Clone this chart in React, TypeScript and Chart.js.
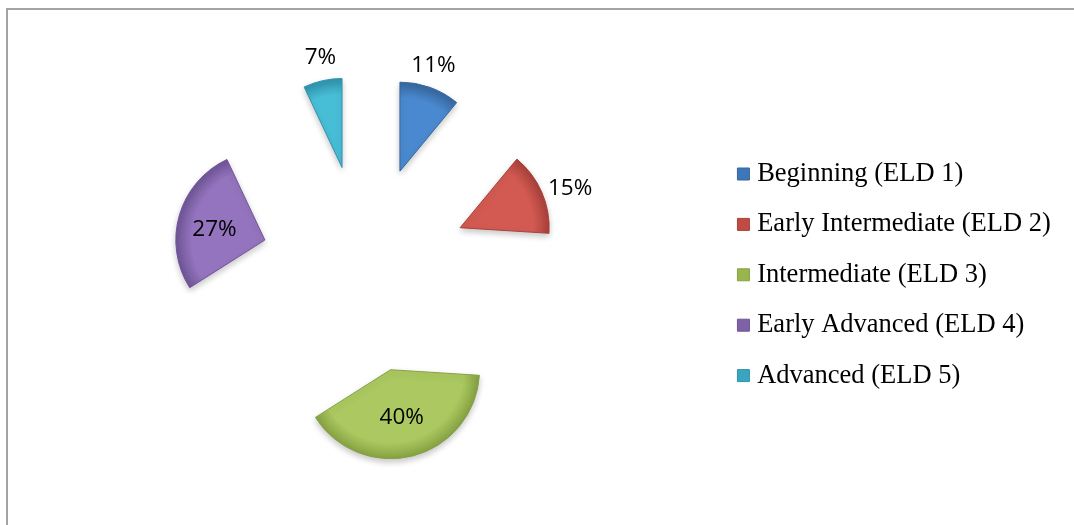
import React, { useEffect, useRef } from 'react';
import { Chart, registerables } from 'chart.js';

Chart.register(...registerables);

// ---- data ----
const CATEGORIES = [
  'Beginning (ELD 1)',
  'Early Intermediate (ELD 2)',
  'Intermediate (ELD 3)',
  'Early Advanced (ELD 4)',
  'Advanced (ELD 5)',
];
const PERCENTS = [11, 15, 40, 27, 7];

// ---- style ----
const SLICE_COLORS = ['#4A89CF', '#D35A52', '#ABC960', '#9474BE', '#48BDD6'];
const EDGE_COLORS = ['#36679F', '#A9413B', '#86A243', '#6F5597', '#2F93AC'];
const KEY_COLORS = ['#3F76B8', '#C04B45', '#98B54E', '#7F62A6', '#3AA5BF'];

const RADIUS = 89;
const EXPLODE = 104;
const LABEL_FONT = '22.5px "Open Sans", "Liberation Sans", sans-serif';

function sliceFill(c: any) {
  const chart = c.chart;
  const area = chart.chartArea;
  const i = c.dataIndex;
  if (!area || i === undefined) return SLICE_COLORS[i ?? 0];
  const data: number[] = c.dataset.data;
  const total = data.reduce((a, b) => a + b, 0);
  let before = 0;
  for (let k = 0; k < i; k++) before += data[k];
  const start = -Math.PI / 2 + (before / total) * 2 * Math.PI;
  const end = start + (data[i] / total) * 2 * Math.PI;
  const mid = (start + end) / 2;
  const cx = (area.left + area.right) / 2 + Math.cos(mid) * EXPLODE;
  const cy = (area.top + area.bottom) / 2 + Math.sin(mid) * EXPLODE;
  const g = chart.ctx.createRadialGradient(cx, cy, 0, cx, cy, RADIUS);
  g.addColorStop(0, SLICE_COLORS[i]);
  g.addColorStop(0.82, SLICE_COLORS[i]);
  g.addColorStop(1, EDGE_COLORS[i]);
  return g;
}

const explodePlugin = {
  id: 'explodeSlices',
  afterDatasetUpdate(_chart: any, args: any) {
    args.meta.data.forEach((arc: any) => {
      const mid = (arc.startAngle + arc.endAngle) / 2;
      arc.x += Math.cos(mid) * EXPLODE;
      arc.y += Math.sin(mid) * EXPLODE;
    });
  },
  beforeDatasetsDraw(chart: any) {
    const ctx = chart.ctx;
    ctx.save();
    ctx.shadowColor = 'rgba(0, 0, 0, 0.22)';
    ctx.shadowBlur = 6;
    ctx.shadowOffsetX = 0;
    ctx.shadowOffsetY = 3;
  },
  afterDatasetsDraw(chart: any) {
    chart.ctx.restore();
  },
};

const anchorShare = (t: number) => Math.sign(t) * Math.max(0, (Math.abs(t) - 0.4) / 0.6);

const labelPlugin = {
  id: 'sliceLabels',
  afterDatasetsDraw(chart: any) {
    const meta = chart.getDatasetMeta(0);
    const values: number[] = chart.data.datasets[0].data;
    const ctx = chart.ctx;
    ctx.save();
    ctx.shadowColor = 'transparent';
    ctx.font = LABEL_FONT;
    ctx.fillStyle = '#000000';
    ctx.textAlign = 'center';
    ctx.textBaseline = 'middle';
    meta.data.forEach((arc: any, i: number) => {
      const { x, y, startAngle, endAngle, outerRadius } = arc;
      const mid = (startAngle + endAngle) / 2;
      const half = (endAngle - startAngle) / 2;
      const ux = Math.cos(mid);
      const uy = Math.sin(mid);
      const text = `${values[i]}%`;
      const w = ctx.measureText(text).width;
      let lx: number;
      let ly: number;
      if (endAngle - startAngle > 1.2) {
        const d = (2 * outerRadius * Math.sin(half)) / (3 * half);
        lx = x + ux * d;
        ly = y + uy * d + 4;
      } else {
        const gap = 10;
        const hw = w / 2;
        const hh = 14;
        lx = x + ux * (outerRadius + gap) + hw * anchorShare(ux);
        ly = y + uy * (outerRadius + gap) + hh * anchorShare(uy);
      }
      ctx.fillText(text, lx, ly);
    });
    ctx.restore();
  },
};

export default function App() {
  const ref = useRef<HTMLCanvasElement | null>(null);

  useEffect(() => {
    if (!ref.current) return;
    const baseGen = (Chart as any).overrides.doughnut.plugins.legend.labels.generateLabels;
    const chart = new Chart(ref.current, {
      type: 'pie',
      data: {
        labels: CATEGORIES,
        datasets: [
          {
            data: PERCENTS,
            backgroundColor: sliceFill as any,
            borderColor: EDGE_COLORS,
            borderWidth: 1,
            radius: RADIUS,
          } as any,
        ],
      },
      options: {
        responsive: false,
        maintainAspectRatio: false,
        animation: false,
        events: [],
        layout: { padding: { left: 10.4, right: 13.25, top: 13, bottom: 0 } },
        plugins: {
          tooltip: { enabled: false },
          legend: {
            position: 'right',
            align: 'center',
            title: { display: true, text: '', padding: 0, font: { size: 11.6, lineHeight: 1 } },
            labels: {
              font: { family: '"Liberation Serif", "Times New Roman", serif', size: 26.5 },
              color: '#000000',
              usePointStyle: true,
              pointStyle: 'rect',
              boxWidth: 1,
              boxHeight: 12,
              padding: 23.9,
              generateLabels: (ch: any) =>
                baseGen(ch).map((item: any, i: number) => ({
                  ...item,
                  fillStyle: KEY_COLORS[i],
                  strokeStyle: EDGE_COLORS[i],
                  lineWidth: 1,
                  pointStyle: 'rect',
                })),
            },
          },
        },
      },
      plugins: [explodePlugin, labelPlugin],
    });
    return () => chart.destroy();
  }, []);

  return (
    <>
      <div
        style={{
          position: 'fixed',
          left: 6,
          top: 8,
          width: 1200,
          height: 700,
          borderTop: '2px solid #a3a3a3',
          borderLeft: '2px solid #a3a3a3',
          boxSizing: 'border-box',
        }}
      />
      <canvas
        ref={ref}
        width={1074}
        height={525}
        style={{ position: 'fixed', left: 0, top: 0, display: 'block' }}
      />
    </>
  );
}
